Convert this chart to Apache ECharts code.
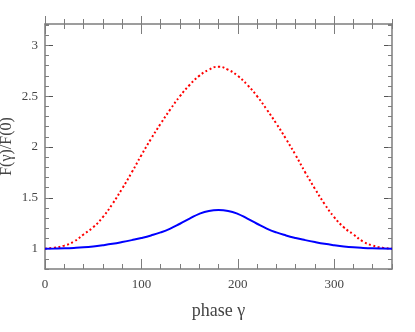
<!DOCTYPE html>
<html>
<head>
<meta charset="utf-8">
<script src="https://cdn.jsdelivr.net/npm/echarts@6/dist/echarts.min.js"></script>
<style>
  html, body { margin: 0; padding: 0; background: #fff; }
  #chart { width: 415px; height: 332px; }
</style>
</head>
<body>
<div id="chart"></div>
<script>
// phase (deg) sampled every 10
const phase = [0, 10, 20, 30, 40, 50, 60, 70, 80, 90, 100, 110, 120, 130, 140, 150, 160, 170, 180,
  190, 200, 210, 220, 230, 240, 250, 260, 270, 280, 290, 300, 310, 320, 330, 340, 350, 360];
// red dotted curve
const redF = [1.00, 1.01, 1.03, 1.07, 1.14, 1.21, 1.31, 1.44, 1.59, 1.75, 1.92, 2.08, 2.23, 2.37, 2.50, 2.61, 2.70, 2.76, 2.79,
  2.76, 2.70, 2.61, 2.50, 2.37, 2.23, 2.08, 1.92, 1.75, 1.59, 1.44, 1.31, 1.21, 1.14, 1.07, 1.03, 1.01, 1.00];
// blue solid curve
const blueF = [1.000, 1.001, 1.003, 1.007, 1.013, 1.022, 1.034, 1.048, 1.065, 1.084, 1.105, 1.130, 1.160, 1.198, 1.245, 1.295, 1.342, 1.371, 1.380,
  1.371, 1.342, 1.295, 1.245, 1.198, 1.160, 1.130, 1.105, 1.084, 1.065, 1.048, 1.034, 1.022, 1.013, 1.007, 1.003, 1.001, 1.000];
// tick labels
const xTicks = [0, 100, 200, 300];
const yTicks = [1, 1.5, 2, 2.5, 3];

const gray = "#7d7d7d";
const serif = "'Liberation Serif', 'DejaVu Serif', serif";
const xMin = 0, xMax = 360, yMin = 0.8, yMax = 3.21;

let chart = echarts.init(document.getElementById("chart"));

// axis helpers (frame with ticks on all four sides)
const xAx = (pos, ticks, inside, len, extra) => Object.assign({
  type: "value", min: xMin, max: xMax, position: pos,
  axisLine: { show: false, onZero: false },
  axisTick: { show: true, inside: inside, length: len, lineStyle: { color: gray, width: 1 } },
  axisLabel: { show: false },
  splitLine: { show: false },
}, ticks ? { axisTick: { show: true, inside: inside, length: len, customValues: ticks, lineStyle: { color: gray, width: 1 } } } : { interval: 20 }, extra || {});

const yAx = (pos, ticks, len, extra) => Object.assign({
  type: "value", min: yMin, max: yMax, position: pos,
  axisLine: { show: false, onZero: false },
  axisTick: { show: true, inside: true, length: len, lineStyle: { color: gray, width: 1 } },
  axisLabel: { show: false },
  splitLine: { show: false },
}, ticks ? { axisTick: { show: true, inside: true, length: len, customValues: ticks, lineStyle: { color: "#555", width: 1 } } } : { interval: 0.1 }, extra || {});

chart.setOption({
  animation: false,
  backgroundColor: "#fff",
  grid: { left: 45, right: 23, top: 24, bottom: 63, containLabel: false, outerBoundsMode: "none" },
  xAxis: [
    xAx("bottom", xTicks, true, 10, {
      axisLine: { show: true, onZero: false, lineStyle: { color: gray, width: 1.5 } },
      axisLabel: { show: true, customValues: xTicks, margin: 9, color: "#444", fontFamily: serif, fontSize: 13 },
      name: "phase γ", nameLocation: "middle", nameGap: 33, nameMoveOverlap: false,
      nameTextStyle: { color: "#444", fontFamily: serif, fontSize: 18 },
    }),
    xAx("bottom", null, true, 5),
    xAx("top", xTicks, true, 10, {
      axisLine: { show: true, onZero: false, lineStyle: { color: gray, width: 1.5 } },
    }),
    xAx("top", xTicks, false, 8),
    xAx("top", null, true, 5),
    xAx("top", null, false, 5),
  ],
  yAxis: [
    yAx("left", yTicks, 8, {
      axisLine: { show: true, onZero: false, lineStyle: { color: gray, width: 1.5 } },
      axisLabel: { show: true, customValues: yTicks, margin: 7, color: "#444", fontFamily: serif, fontSize: 13 },
      name: "F(γ)/F(0)", nameLocation: "middle", nameGap: 30, nameMoveOverlap: false,
      nameTextStyle: { color: "#444", fontFamily: serif, fontSize: 16 },
    }),
    yAx("left", null, 4),
    yAx("right", yTicks, 8, {
      axisLine: { show: true, onZero: false, lineStyle: { color: gray, width: 1.5 } },
    }),
    yAx("right", null, 4),
  ],
  series: [
    {
      type: "line", xAxisIndex: 0, yAxisIndex: 0,
      smooth: true, symbol: "none",
      lineStyle: { color: "#ff0000", width: 2, type: [2, 2.5], cap: "butt" },
      data: phase.map((p, i) => [p, redF[i]]),
    },
    {
      type: "line", xAxisIndex: 0, yAxisIndex: 0,
      smooth: true, symbol: "none",
      lineStyle: { color: "#0000ff", width: 2 },
      data: phase.map((p, i) => [p, blueF[i]]),
    },
  ],
});
</script>
</body>
</html>
